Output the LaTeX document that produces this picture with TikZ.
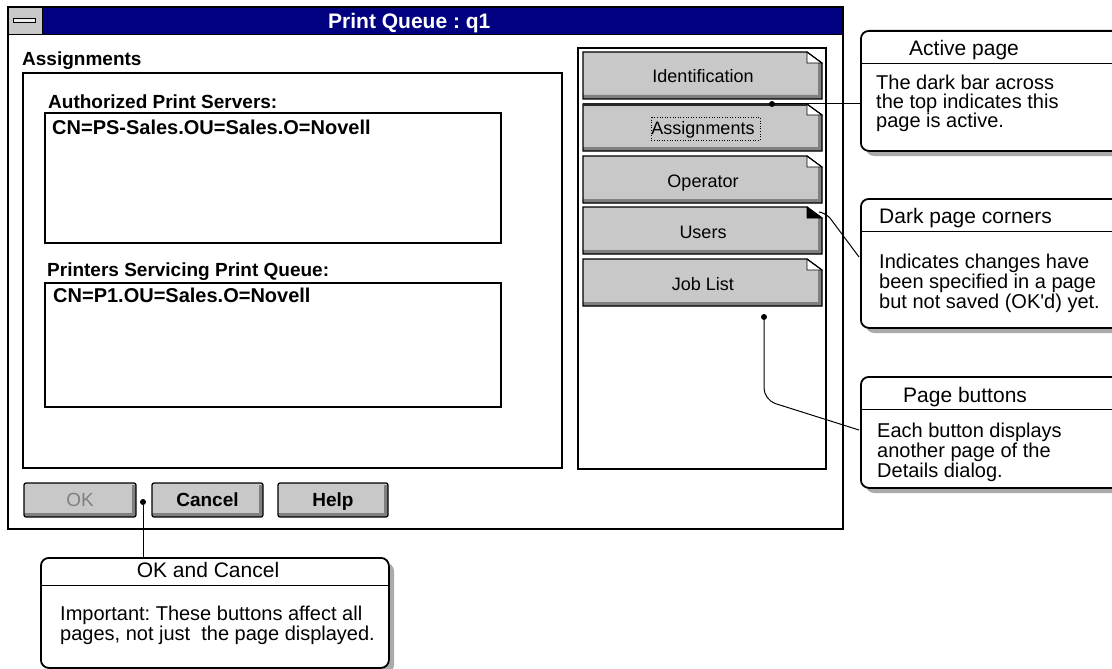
\documentclass[tikz,border=0pt]{standalone}
\usepackage{fontspec}
\setmainfont{Liberation Sans}
\frenchspacing
\definecolor{navy}{RGB}{0,0,128}
\definecolor{btnface}{RGB}{200,200,200}
\definecolor{btnshade}{RGB}{128,128,128}
\definecolor{shadowc}{RGB}{170,170,170}
\tikzset{
  winlbl/.style={font=\fontsize{19}{20}\selectfont\bfseries, anchor=base west, inner sep=0pt},
  pglabel/.style={font=\fontsize{18}{20}\selectfont, anchor=base, inner sep=0pt},
  dlglabel/.style={font=\fontsize{19}{20}\selectfont\bfseries, anchor=base, inner sep=0pt},
  cbody/.style={font=\fontsize{20}{20}\selectfont, anchor=base west, inner sep=0pt},
  chead/.style={font=\fontsize{21}{21}\selectfont, anchor=base west, inner sep=0pt},
  callout/.style={draw=black, line width=1.8pt, rounded corners=8pt, fill=white, anchor=north west, inner sep=0pt},
  cshadow/.style={fill=shadowc, rounded corners=8pt},
  conn/.style={draw=black, line width=1pt},
  dotnode/.style={circle, fill=black, inner sep=0pt, minimum size=6pt},
  frame/.style={draw=black, line width=1.3pt}
}
\newcommand\pgbutton[4]{%
  \fill[btnface] (583,#2) -- (807,#2) -- (822,#2+11) -- (822,#2+47) -- (583,#2+47) -- cycle;
  \fill[btnshade] (818,#2+11) -- (822,#2+11) -- (822,#2+47) -- (583,#2+47) -- (583,#2+43) -- (818,#2+43) -- cycle;
  \filldraw[fill=#4, draw=black, line width=0.8pt] (807,#2) -- (822,#2+11) -- (807,#2+11) -- cycle;
  \draw[line width=1.2pt, line join=miter] (583,#2) -- (807,#2) -- (822,#2+11) -- (822,#2+47) -- (583,#2+47) -- cycle;
  \node[pglabel] (#1) at (703,#2+31) {#3};
}
\newcommand\dlgbutton[5]{%
  \fill[btnface] (#2,483) rectangle (#3,517);
  \fill[btnshade] (#3-4,485) rectangle (#3,517);
  \fill[btnshade] (#2,513) rectangle (#3,517);
  \draw[line width=1.2pt, rounded corners=2pt] (#2,483) rectangle (#3,517);
  \node[dlglabel, #5] (#1) at ({(#2+#3)/2},506) {#4};
}
\begin{document}
\begin{tikzpicture}[x=1pt,y=-1pt]
\clip (0,0) rectangle (1112,669);
\fill[white] (0,0) rectangle (1112,669);

% ---------- window ----------
\fill[navy] (42,7) rectangle (843,35);
\filldraw[fill=btnface, draw=black, line width=1pt] (8,7) rectangle (42,35);
\filldraw[fill=white!85!gray, draw=black, line width=1pt] (13,19) rectangle (35,23);
\draw[frame] (8,7) rectangle (843,529);
\draw[line width=1pt] (8,35) -- (843,35);
\node[font=\fontsize{21}{21}\selectfont\bfseries, text=white, anchor=base west, inner sep=0pt] (title) at (328,29) {Print Queue : q1};

\node[winlbl] (asg) at (22,66) {Assignments};
\draw[line width=1.2pt] (23,73) rectangle (562,468);
\node[winlbl] (aps) at (48,109) {Authorized Print Servers:};
\draw[line width=1.2pt] (45,113) rectangle (501,243);
\node[winlbl, font=\fontsize{20}{20}\selectfont\bfseries] (ps1) at (52,134) {CN=PS-Sales.OU=Sales.O=Novell};
\node[winlbl] (psq) at (47,276) {Printers Servicing Print Queue:};
\draw[line width=1.2pt] (45,283) rectangle (501,407);
\node[winlbl, font=\fontsize{20}{20}\selectfont\bfseries] (p1) at (53,302) {CN=P1.OU=Sales.O=Novell};

% ---------- page buttons ----------
\draw[line width=1.2pt] (578,48) rectangle (826,469);
\pgbutton{bid}{52}{Identification}{white}
\pgbutton{bas}{104}{Assignments}{white}
\draw[line width=3pt, black!85] (583,105) -- (807,105);
\draw[dotted, line width=0.6pt] (651,117) rectangle (760,140);
\pgbutton{bop}{156}{Operator}{white}
\pgbutton{bus}{207}{Users}{black}
\pgbutton{bjl}{259}{Job List}{white}

% ---------- dialog buttons ----------
\dlgbutton{bok}{24}{136}{OK}{font=\fontsize{19}{20}\selectfont, text=gray}
\dlgbutton{bcan}{152}{263}{Cancel}{}
\dlgbutton{bhelp}{278}{388}{Help}{}

% ---------- callouts ----------
% Active page
\fill[cshadow] (866,36) rectangle (1131,156);
\node[callout, minimum width=265pt, minimum height=120pt] (cact) at (860,30) {};
\draw[line width=0.8pt] (860,63) -- (1125,63);
\node[chead] (hact) at (909,56) {Active page};
\node[cbody] (bact1) at (876,90) {The dark bar across};
\node[cbody] (bact2) at (876,109) {the top indicates this};
\node[cbody] (bact3) at (876,128) {page is active.};

% Dark page corners
\fill[cshadow] (866,204) rectangle (1131,333);
\node[callout, minimum width=265pt, minimum height=129pt] (cdark) at (860,198) {};
\draw[line width=0.8pt] (860,231) -- (1125,231);
\node[chead] (hdark) at (879,223) {Dark page corners};
\node[cbody] (bdark1) at (879,268) {Indicates changes have};
\node[cbody] (bdark2) at (879,288) {been specified in a page};
\node[cbody] (bdark3) at (879,308) {but not saved (OK\textquotesingle d) yet.};

% Page buttons
\fill[cshadow] (866,382) rectangle (1131,493);
\node[callout, minimum width=265pt, minimum height=111pt] (cpage) at (860,376) {};
\draw[line width=0.8pt] (860,409) -- (1125,409);
\node[chead] (hpage) at (903,402) {Page buttons};
\node[cbody] (bpage1) at (877,437) {Each button displays};
\node[cbody] (bpage2) at (877,457) {another page of the};
\node[cbody] (bpage3) at (877,477) {Details dialog.};

% OK and Cancel
\fill[cshadow] (46,563) rectangle (394,673);
\node[callout, minimum width=348pt, minimum height=110pt] (cok) at (40,557) {};
\draw[line width=0.8pt] (40,585) -- (388,585);
\node[chead, anchor=base] (hok) at (208,577) {OK and Cancel};
\node[cbody] (bok1) at (60,620) {Important: These buttons affect all};
\node[cbody] (bok2) at (60,640) {pages, not just\ \ the page displayed.};

% ---------- connectors ----------
\node[dotnode] (dact) at (772,104) {};
\draw[conn] (dact) -- (dact -| cact.west);

\coordinate (ucorner) at (819,212);
\coordinate (cdarkin) at (859,257);
\draw[conn, rounded corners=6pt] (ucorner) -- (827,214) -- (cdarkin);

\node[dotnode] (dpage) at (764,317) {};
\coordinate (cpagein) at (859,430);
\draw[conn, rounded corners=12pt] (dpage) -- (764,400) -- (cpagein);

\node[dotnode] (dok) at (143,502) {};
\draw[conn] (dok) -- (dok |- cok.north);
\end{tikzpicture}
\end{document}
